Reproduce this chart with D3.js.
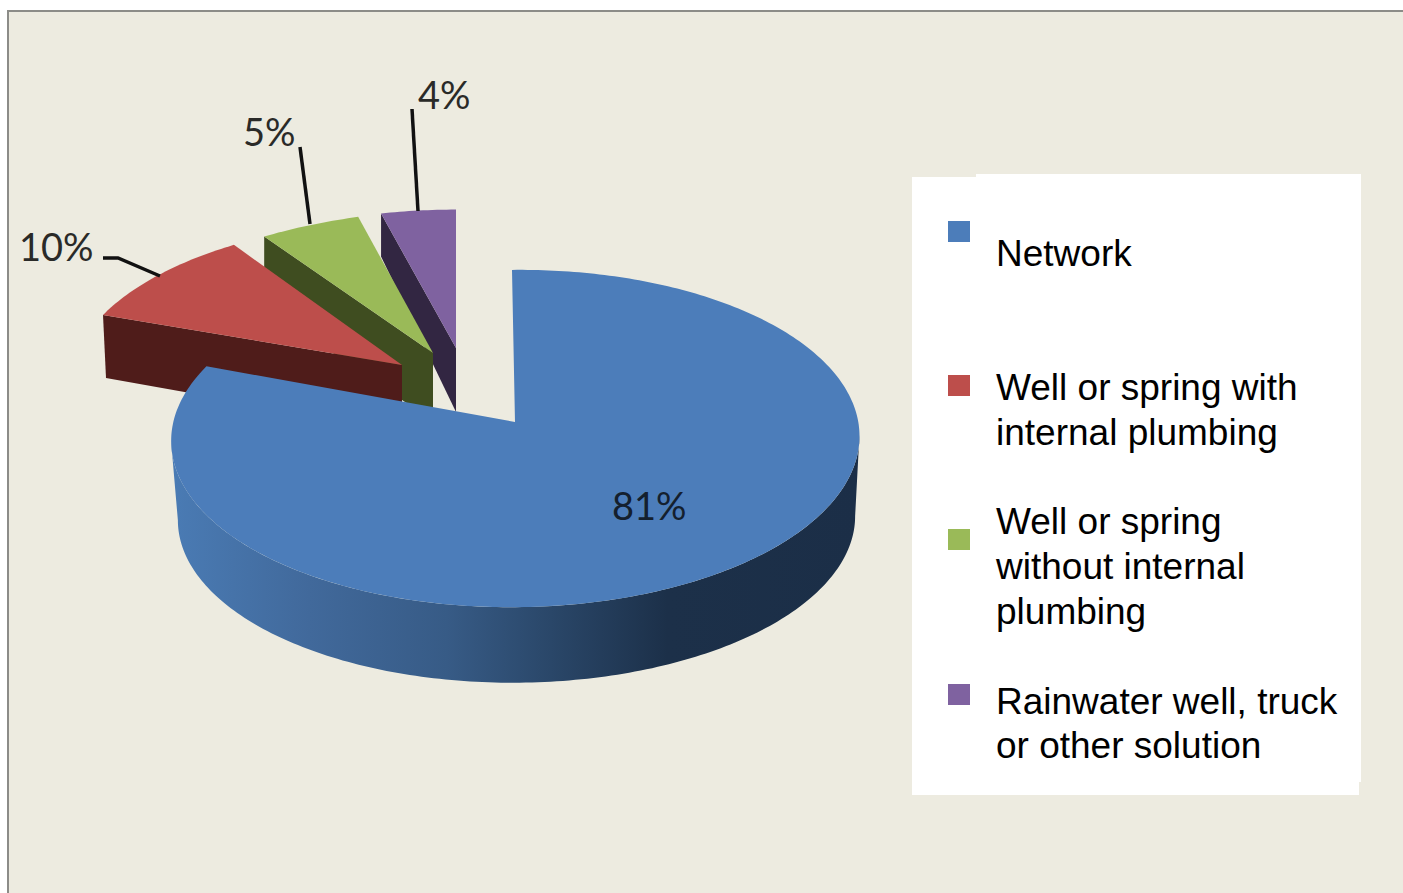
<!DOCTYPE html>
<html>
<head>
<meta charset="utf-8">
<script src="https://cdn.jsdelivr.net/npm/d3@7"></script>
<style>
    html, body { margin: 0; padding: 0; background: #fff; overflow: hidden; }
    svg { display: block; }
</style>
</head>
<body>
<svg id="chart" width="1403" height="893"></svg>
<script>
// values, clockwise from 12 o'clock
const categories = [
    ["Network"],
    ["Well or spring with", "internal plumbing"],
    ["Well or spring", "without internal", "plumbing"],
    ["Rainwater well, truck", "or other solution"]
];
const shares = [81, 10, 5, 4];
const topColors = ["#4c7dba", "#bd4e4b", "#9aba58", "#7f62a0"];
const wallColors = ["#1c2f4a", "#4f1c1a", "#3f4d20", "#322642"];

// 3d look: each slice has its own apex and scale, slices further back are smaller
// lx/ly shear the slice a bit so the corners land where the picture has them
const perspective = 0.098;
const sliceLayout = [
    {ax: 515, ay: 422, rx: 342.5, ry: 167, lx: -3.3, ly: -4},
    {ax: 402, ay: 365, rx: 331, ry: 158.5, lx: -5.5, ly: -7, wallOuter: 63, wallApex: 66, wallDx: 3},
    {ax: 433, ay: 353, rx: 349, ry: 157, lx: 5, ly: -12, wallOuter: 70, wallApex: 68, wallDx: 0},
    {ax: 456, ay: 348, rx: 330, ry: 152, lx: 0, ly: 0, wallOuter: 43, wallApex: 64, wallDx: 0}
];
const blueBottom = {ax: 516.5, ay: 502, rx: 337, ry: 163, lx: 0, ly: -2};

const labelLayout = [
    {x: 612, y: 520},
    {x: 19, y: 261},
    {x: 243, y: 146},
    {x: 418, y: 109}
];
const leaderLayout = [
    null,
    [[103, 258], [118, 258], [160, 276]],
    [[300, 147], [310, 224]],
    [[412, 109], [418, 211]]
];
const legendSwatchY = [221, 375, 529, 684];
const legendBaselines = [[266], [400, 445], [534, 579, 624], [714, 758]];

const svg = d3.select("#chart");
const color = d3.scaleOrdinal().domain(d3.range(shares.length)).range(topColors);
const wallColor = d3.scaleOrdinal().domain(d3.range(shares.length)).range(wallColors);

const pie = d3.pie().sort(null).startAngle(0).endAngle(2 * Math.PI);
const slices = pie(shares);
const line = d3.line();

function project(l, a) {
    const u = Math.sin(a), v = Math.cos(a), w = 1 + perspective * v;
    return [l.ax + (l.rx * u + l.lx * v) / w, l.ay + (l.ly * u - l.ry * v) / w];
}
function arcPoints(l, a0, a1) {
    const n = Math.max(2, Math.ceil(Math.abs(a1 - a0) * 60));
    return d3.range(n + 1).map(function (i) {
        return project(l, a0 + (a1 - a0) * i / n);
    });
}

// background panel
svg.append("rect").attr("x", 8).attr("y", 11).attr("width", 1420).attr("height", 900)
    .attr("fill", "#edebe0").attr("stroke", "#8c8c88").attr("stroke-width", 2);

const defs = svg.append("defs");
const grad = defs.append("linearGradient").attr("id", "blueWall")
    .attr("gradientUnits", "userSpaceOnUse")
    .attr("x1", 172).attr("x2", 860).attr("y1", 0).attr("y2", 0);
[[0, "#4a7bb4"], [0.2, "#41699b"], [0.4, "#375b86"], [0.55, "#2a4769"], [0.72, "#1c3049"], [1, "#1b2e47"]]
    .forEach(function (s) {
        grad.append("stop").attr("offset", s[0]).attr("stop-color", s[1]);
    });

const pieGroup = svg.append("g");

// draw back to front: purple, green, red, then the big slice
d3.range(shares.length - 1, 0, -1).forEach(function (i) {
    const d = slices[i], l = sliceLayout[i];
    const outer = project(l, d.startAngle);
    const wall = [
        outer,
        [l.ax, l.ay],
        [l.ax, l.ay + l.wallApex],
        [outer[0] + l.wallDx, outer[1] + l.wallOuter]
    ];
    pieGroup.append("path").attr("d", line(wall) + "Z").attr("fill", wallColor(i));
    pieGroup.append("path")
        .attr("d", line([[l.ax, l.ay]].concat(arcPoints(l, d.startAngle, d.endAngle))) + "Z")
        .attr("fill", color(i));
});

// big slice, rim between the two silhouette points then the top face
const main = slices[0], mainL = sliceLayout[0];
const tangentA = Math.acos(-perspective), tangentB = 2 * Math.PI - tangentA;
const rim = arcPoints(mainL, tangentA, tangentB)
    .concat(arcPoints(blueBottom, tangentB, tangentA));
pieGroup.append("path").attr("d", line(rim) + "Z").attr("fill", "url(#blueWall)");
pieGroup.append("path")
    .attr("d", line([[mainL.ax, mainL.ay]].concat(arcPoints(mainL, main.startAngle, main.endAngle))) + "Z")
    .attr("fill", color(0));

// leader lines
leaderLayout.forEach(function (pts) {
    if (!pts) return;
    svg.append("path").attr("d", line(pts)).attr("fill", "none")
        .attr("stroke", "#111").attr("stroke-width", 3.5);
});

// value labels
svg.selectAll(".value").data(slices).enter().append("text")
    .attr("class", "value")
    .attr("x", function (d, i) { return labelLayout[i].x; })
    .attr("y", function (d, i) { return labelLayout[i].y; })
    .attr("font-family", "Lato, 'Noto Sans', sans-serif")
    .attr("font-size", 38)
    .attr("fill", function (d, i) { return i === 0 ? "#14202e" : "#2a2a28"; })
    .text(function (d) { return d.data + "%"; });

// legend box, the original has small notches at two corners
svg.append("rect").attr("x", 912).attr("y", 177).attr("width", 447).attr("height", 618).attr("fill", "#fff");
svg.append("rect").attr("x", 976).attr("y", 174).attr("width", 385).attr("height", 608).attr("fill", "#fff");

const legend = svg.selectAll(".legend").data(categories).enter().append("g").attr("class", "legend");
legend.append("rect")
    .attr("x", 948)
    .attr("y", function (d, i) { return legendSwatchY[i]; })
    .attr("width", 22).attr("height", 21)
    .attr("fill", function (d, i) { return color(i); });
legend.each(function (lines, i) {
    d3.select(this).selectAll("text").data(lines).enter().append("text")
        .attr("x", 996)
        .attr("y", function (t, j) { return legendBaselines[i][j]; })
        .attr("font-family", "'Liberation Sans', Arial, sans-serif")
        .attr("font-size", 37)
        .attr("fill", "#000")
        .text(function (t) { return t; });
});
</script>
</body>
</html>
